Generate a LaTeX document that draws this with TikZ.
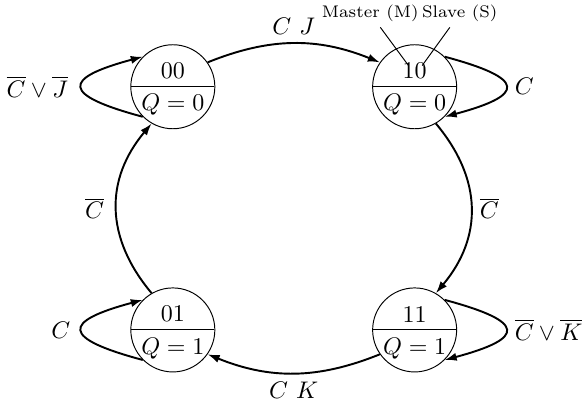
\documentclass[tikz,border=0pt]{standalone}
\usetikzlibrary{shapes.multipart, arrows.meta, positioning}

% lower part of a state: output value, boxed narrow so the circle keeps its size
\newcommand{\outq}[1]{\makebox[18pt]{$Q=#1$}}

\begin{document}
\begin{tikzpicture}[
      every node/.style={font=\normalsize},
      stnode/.style={circle split, draw, minimum size=1.23cm,
                     inner xsep=0pt, inner ysep=3pt},
      trans/.style={->, thick, >={Latex[length=5pt,width=3.4pt]}},
      tag/.style={font=\scriptsize, inner sep=2pt}]

    \useasboundingbox (0,0) rectangle (8.52,5.87);

    % states (upper part: M S bits, lower part: output)
    \node[stnode] (s00) at (2.53,4.60) {00 \nodepart{lower} \outq{0}};
    \node[stnode] (s10) at (6.07,4.60) {10 \nodepart{lower} \outq{0}};
    \node[stnode] (s01) at (2.53,1.04) {01 \nodepart{lower} \outq{1}};
    \node[stnode] (s11) at (6.07,1.04) {11 \nodepart{lower} \outq{1}};

    % transitions round the ring
    \draw[trans] (s00.35) to[out=22, in=158, looseness=1]
          node[above] {$C\ J$} (s10.145);
    \draw[trans] (s10.-60) to[out=-50, in=50, looseness=1.1]
          node[right] {$\overline{C}$} (s11.60);
    \draw[trans] (s11.215) to[out=202, in=-22, looseness=1]
          node[below] {$C\ K$} (s01.-35);
    \draw[trans] (s01.120) to[out=130, in=230, looseness=1.1]
          node[left=1.5pt] {$\overline{C}$} (s00.240);

    % self loops
    \draw[trans] (s00.225) to[out=165, in=195, looseness=3.6]
          node[left=2pt] {$\overline{C} \vee \overline{J}$} (s00.135);
    \draw[trans] (s10.45) to[out=-15, in=15, looseness=3.6]
          node[right] {$C$} (s10.-45);
    \draw[trans] (s01.225) to[out=165, in=195, looseness=3.6]
          node[left=1pt] {$C$} (s01.135);
    \draw[trans] (s11.45) to[out=-15, in=15, looseness=3.6]
          node[right] {$\overline{C} \vee \overline{K}$} (s11.-45);

    % master / slave annotation on state 10
    \node[tag] (mtag) at (5.42,5.67) {Master (M)};
    \node[tag] (stag) at (6.73,5.67) {Slave (S)};
    \coordinate (mbit) at (5.98,4.91);
    \coordinate (sbit) at (6.18,4.91);
    \draw (mbit) -- (mtag);
    \draw (sbit) -- (stag);
  \end{tikzpicture}
\end{document}
